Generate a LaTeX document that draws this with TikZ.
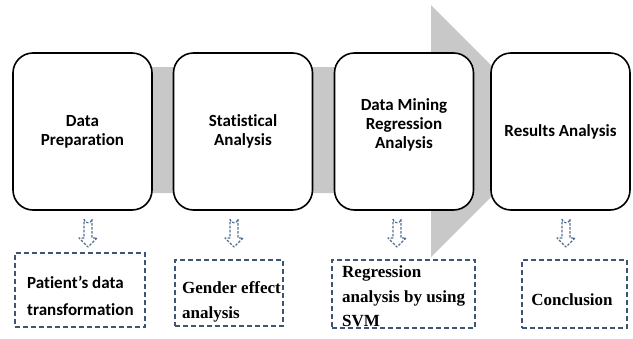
\documentclass[tikz,border=0pt]{standalone}
\usepackage{fontspec}
\setmainfont{Liberation Serif}
\newfontfamily\calfont[Ligatures=NoCommon]{Carlito}
\definecolor{arrowgray}{RGB}{200,200,200}
\definecolor{dashblue}{RGB}{62,86,115}
\definecolor{arrowblue}{RGB}{80,110,145}
\tikzset{
  stagebox/.style={draw=black, line width=1.6pt, fill=white, rounded corners=20pt,
    minimum width=139pt, minimum height=157pt, inner sep=0pt, align=center,
    font=\calfont\bfseries\fontsize{17}{19}\selectfont},
  stagetext/.style={inner sep=0pt, align=center, font=\calfont\bfseries\fontsize{17}{19}\selectfont},
  outbox/.style={draw=dashblue, line width=1.5pt, dash pattern=on 5pt off 3pt, inner sep=0pt},
  serifline/.style={anchor=base west, inner sep=0pt, font=\bfseries\fontsize{17}{24}\selectfont},
  calline/.style={anchor=base west, inner sep=0pt, font=\calfont\bfseries\fontsize{17}{24}\selectfont},
  pics/hollowdown/.style={code={
    \draw[arrowblue, line width=1.2pt, dash pattern=on 2.5pt off 1.5pt, line join=round]
      (-4,6) to[out=-90,in=-90,looseness=1.6] (4,6) -- (4,25) -- (9,25) -- (0,34) -- (-9,25) -- (-4,25) -- cycle;
  }}
}
\begin{document}
\begin{tikzpicture}[x=1pt,y=-1pt]
\useasboundingbox (0,0) rectangle (633,338);
% big gray arrow
\fill[arrowgray] (50,67) -- (431,67) -- (431,5) -- (557,131) -- (431,257) -- (431,193) -- (50,193) -- cycle;
% stage boxes
\node[stagebox] (b1) at (82.5,131.5) {Data\\Preparation};
\node[stagebox] (b2) at (243,131.5) {Statistical\\Analysis};
\node[stagebox] (b3) at (404,131.5) {};
\node[stagetext] (b3t) at (404,125) {Data Mining\\Regression\\Analysis};
\node[stagebox] (b4) at (560.5,131.5) {Results Analysis};
% hollow dashed arrows
\pic at (88,213) {hollowdown};
\pic at (234,213) {hollowdown};
\pic at (397,213) {hollowdown};
\pic at (566,213) {hollowdown};
% output boxes
\node[outbox, minimum width=130pt, minimum height=74pt] (o1) at (80,290) {};
\node[outbox, minimum width=108pt, minimum height=66pt] (o2) at (229,293) {};
\node[outbox, minimum width=143pt, minimum height=68pt] (o3) at (403.5,294) {};
\node[outbox, minimum width=105pt, minimum height=68pt] (o4) at (574.5,294) {};
% output texts
\node[calline] (t1a) at (27,288) {Patient’s data};
\node[calline] (t1b) at (27,315) {transformation};
\node[serifline] (t2a) at (182,293) {Gender effect};
\node[serifline] (t2b) at (182,318) {analysis};
\node[serifline] (t3a) at (342,277) {Regression};
\node[serifline] (t3b) at (342,302) {analysis by using};
\node[serifline] (t3c) at (342,326) {SVM};
\node[serifline, anchor=base] (t4a) at (572,305) {Conclusion};
\end{tikzpicture}
\end{document}
